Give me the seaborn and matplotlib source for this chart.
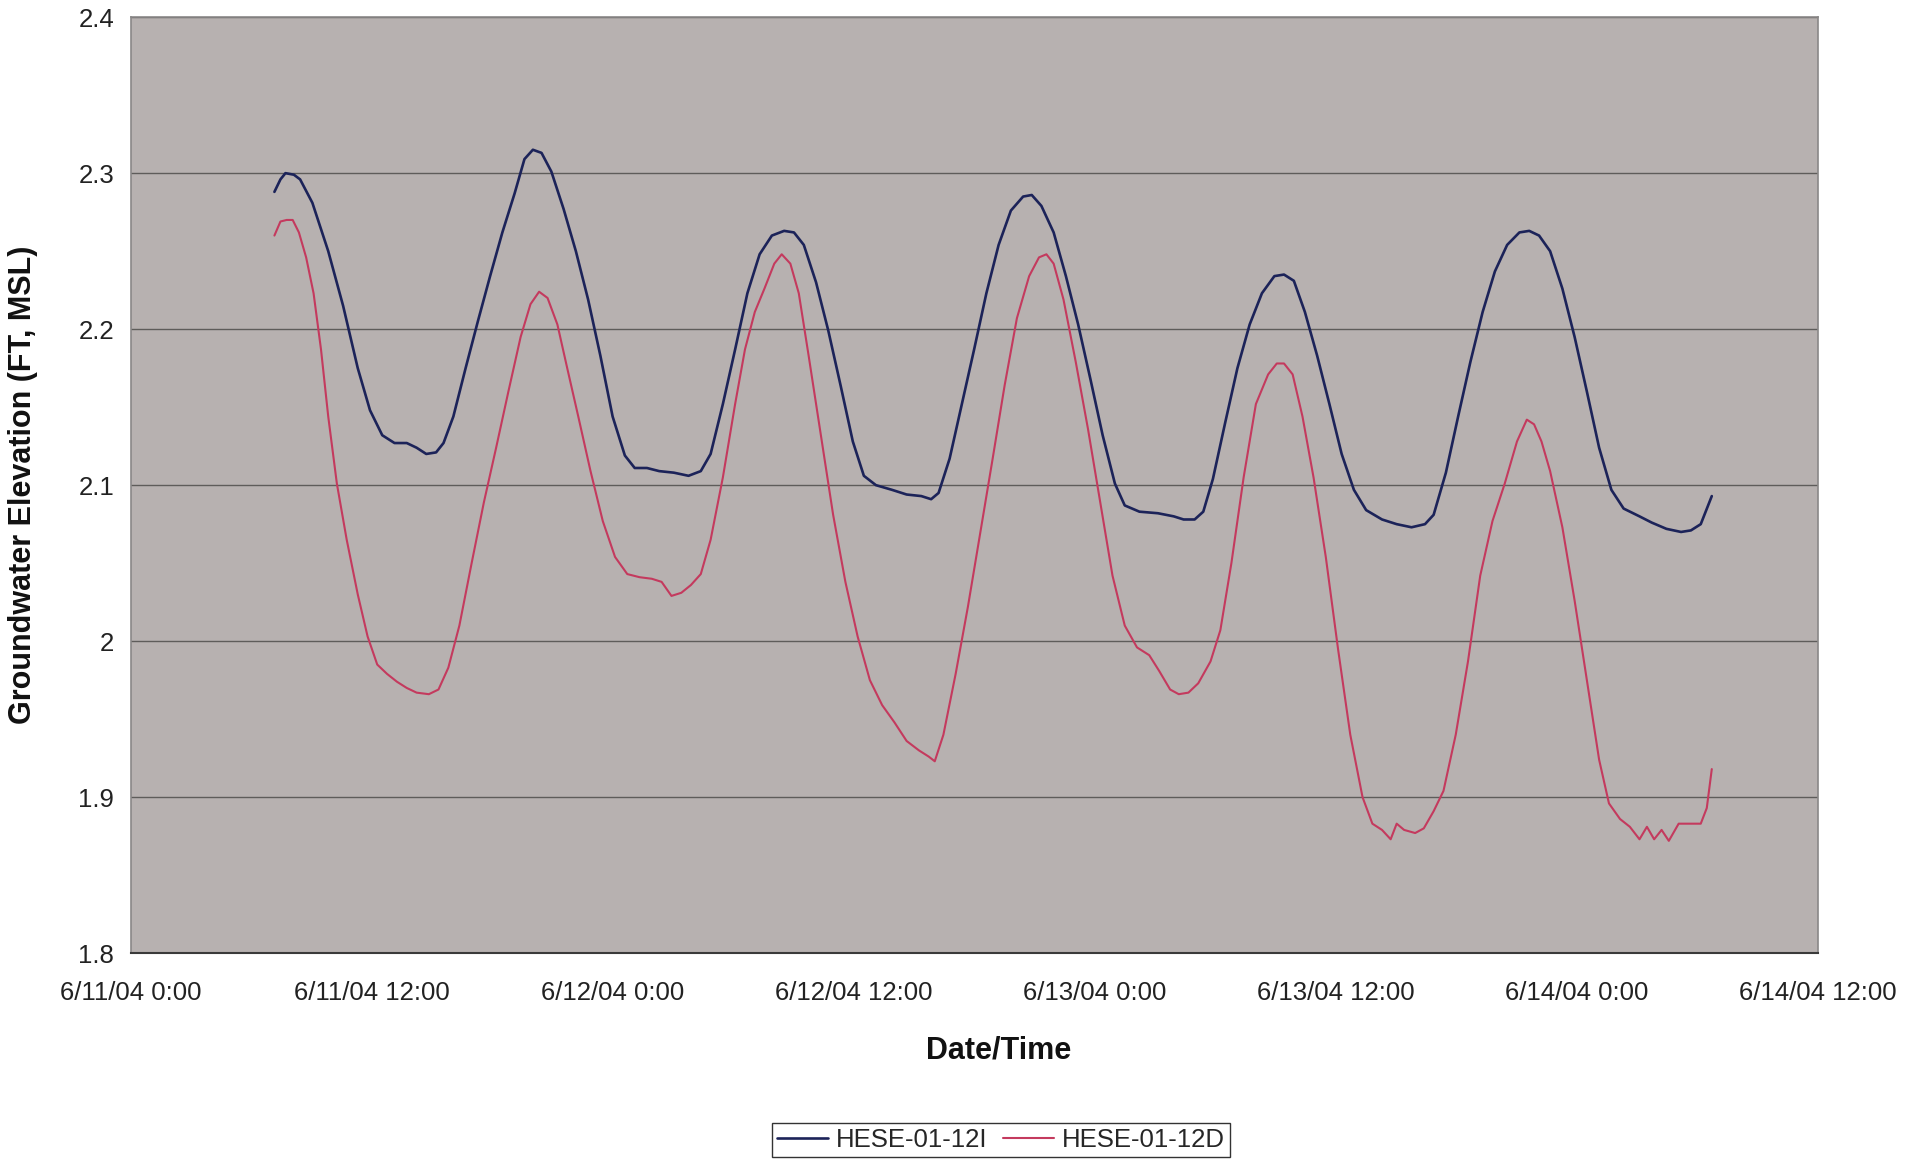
import matplotlib
matplotlib.use("Agg")
import matplotlib.pyplot as plt
import matplotlib.dates as mdates
from matplotlib.ticker import FuncFormatter, MultipleLocator
import numpy as np
import pandas as pd
import seaborn as sns

# Hours after 6/11/04 0:00 and groundwater elevation (ft MSL) for each well
hours_12i = [7.14, 7.44, 7.69, 8.11, 8.42, 9.03, 9.82, 10.56, 11.29, 11.90, 12.51, 13.12,
             13.73, 14.22, 14.70, 15.19, 15.56, 16.05, 16.66, 17.27, 17.88, 18.49, 19.10,
             19.59, 20.01, 20.44, 20.93, 21.54, 22.15, 22.76, 23.37, 23.98, 24.59, 25.08,
             25.69, 26.30, 27.03, 27.76, 28.37, 28.86, 29.47, 30.08, 30.69, 31.30, 31.91,
             32.52, 33.01, 33.50, 34.11, 34.72, 35.33, 35.94, 36.49, 37.09, 37.89, 38.62,
             39.35, 39.84, 40.21, 40.76, 41.37, 41.98, 42.59, 43.20, 43.81, 44.42, 44.85,
             45.33, 45.94, 46.55, 47.16, 47.77, 48.38, 48.99, 49.48, 50.21, 51.13, 51.92,
             52.41, 52.96, 53.39, 53.87, 54.48, 55.09, 55.70, 56.31, 56.93, 57.41, 57.90,
             58.45, 59.06, 59.67, 60.28, 60.89, 61.50, 62.29, 63.02, 63.76, 64.43, 64.86,
             65.47, 66.08, 66.69, 67.30, 67.91, 68.52, 69.13, 69.62, 70.11, 70.66, 71.27,
             71.88, 72.49, 73.10, 73.71, 74.32, 75.11, 75.72, 76.45, 77.18, 77.67, 78.16,
             78.71]
elev_12i = [2.288, 2.296, 2.300, 2.299, 2.296, 2.281, 2.250, 2.215, 2.175, 2.148, 2.132, 2.127,
            2.127, 2.124, 2.120, 2.121, 2.127, 2.144, 2.175, 2.205, 2.234, 2.262, 2.287,
            2.309, 2.315, 2.313, 2.301, 2.277, 2.250, 2.219, 2.183, 2.144, 2.119, 2.111,
            2.111, 2.109, 2.108, 2.106, 2.109, 2.120, 2.152, 2.187, 2.223, 2.248, 2.260,
            2.263, 2.262, 2.254, 2.230, 2.199, 2.164, 2.128, 2.106, 2.100, 2.097, 2.094,
            2.093, 2.091, 2.095, 2.117, 2.152, 2.187, 2.223, 2.254, 2.276, 2.285, 2.286,
            2.279, 2.262, 2.234, 2.203, 2.168, 2.132, 2.101, 2.087, 2.083, 2.082, 2.080,
            2.078, 2.078, 2.083, 2.104, 2.140, 2.175, 2.203, 2.223, 2.234, 2.235, 2.231,
            2.211, 2.183, 2.152, 2.120, 2.097, 2.084, 2.078, 2.075, 2.073, 2.075, 2.081,
            2.108, 2.144, 2.179, 2.211, 2.237, 2.254, 2.262, 2.263, 2.260, 2.250, 2.226,
            2.195, 2.160, 2.124, 2.097, 2.085, 2.080, 2.076, 2.072, 2.070, 2.071, 2.075,
            2.093]

hours_12d = [7.14, 7.44, 7.75, 8.05, 8.36, 8.72, 9.09, 9.46, 9.82, 10.25, 10.74, 11.29,
             11.78, 12.26, 12.75, 13.24, 13.73, 14.22, 14.83, 15.31, 15.80, 16.35, 16.96,
             17.57, 18.18, 18.79, 19.40, 19.89, 20.32, 20.74, 21.23, 21.72, 22.27, 22.88,
             23.49, 24.10, 24.71, 25.32, 25.93, 26.42, 26.91, 27.40, 27.88, 28.37, 28.86,
             29.47, 30.08, 30.57, 31.06, 31.54, 32.03, 32.40, 32.83, 33.25, 33.74, 34.35,
             34.96, 35.57, 36.18, 36.79, 37.40, 38.01, 38.62, 39.23, 39.72, 40.02, 40.45,
             41.06, 41.67, 42.28, 42.89, 43.50, 44.11, 44.72, 45.21, 45.58, 45.94, 46.43,
             47.04, 47.65, 48.26, 48.87, 49.48, 50.09, 50.70, 51.19, 51.74, 52.17, 52.65,
             53.14, 53.75, 54.24, 54.79, 55.40, 56.01, 56.62, 57.05, 57.41, 57.84, 58.33,
             58.88, 59.49, 60.10, 60.71, 61.32, 61.81, 62.29, 62.72, 63.02, 63.39, 63.94,
             64.37, 64.86, 65.35, 65.96, 66.57, 67.18, 67.79, 68.40, 69.01, 69.50, 69.86,
             70.23, 70.66, 71.27, 71.88, 72.49, 73.10, 73.59, 74.14, 74.63, 75.11, 75.48,
             75.84, 76.21, 76.57, 77.06, 77.67, 78.16, 78.46, 78.71]
elev_12d = [2.260, 2.269, 2.270, 2.270, 2.262, 2.246, 2.223, 2.187, 2.144, 2.101, 2.065, 2.030,
            2.003, 1.985, 1.979, 1.974, 1.970, 1.967, 1.966, 1.969, 1.983, 2.010, 2.050,
            2.089, 2.124, 2.160, 2.195, 2.216, 2.224, 2.220, 2.203, 2.175, 2.144, 2.109,
            2.077, 2.054, 2.043, 2.041, 2.040, 2.038, 2.029, 2.031, 2.036, 2.043, 2.065,
            2.105, 2.152, 2.187, 2.211, 2.226, 2.242, 2.248, 2.242, 2.223, 2.183, 2.132,
            2.081, 2.038, 2.003, 1.975, 1.959, 1.948, 1.936, 1.930, 1.926, 1.923, 1.940,
            1.979, 2.022, 2.069, 2.116, 2.164, 2.207, 2.234, 2.246, 2.248, 2.242, 2.219,
            2.179, 2.136, 2.089, 2.042, 2.010, 1.996, 1.991, 1.981, 1.969, 1.966, 1.967,
            1.973, 1.987, 2.007, 2.050, 2.105, 2.152, 2.171, 2.178, 2.178, 2.171, 2.144,
            2.105, 2.054, 1.995, 1.940, 1.900, 1.883, 1.879, 1.873, 1.883, 1.879, 1.877,
            1.880, 1.891, 1.904, 1.940, 1.987, 2.042, 2.077, 2.101, 2.128, 2.142, 2.139,
            2.128, 2.109, 2.073, 2.026, 1.975, 1.924, 1.896, 1.886, 1.881, 1.873, 1.881,
            1.873, 1.879, 1.872, 1.883, 1.883, 1.883, 1.893, 1.918]

series_names = ["HESE-01-12I", "HESE-01-12D"]
series_colors = ["#1c2359", "#c43a5e"]

start = pd.Timestamp("2004-06-11 00:00")
end = pd.Timestamp("2004-06-14 12:00")

frames = []
for name, hrs, vals in [(series_names[0], hours_12i, elev_12i),
                        (series_names[1], hours_12d, elev_12d)]:
    frames.append(pd.DataFrame({
        "time": start + pd.to_timedelta(np.array(hrs), unit="h"),
        "elevation": vals,
        "well": name,
    }))
df = pd.concat(frames, ignore_index=True)

sns.set_style("white")
plt.rcParams["font.family"] = ["Liberation Sans", "DejaVu Sans"]

fig = plt.figure(figsize=(19.21, 11.59), dpi=100)
ax = fig.add_axes([0.0682, 0.1776, 0.8782, 0.8076])
ax.set_facecolor("#b7b1b0")

sns.lineplot(data=df, x="time", y="elevation", hue="well", hue_order=series_names,
             palette=series_colors, ax=ax, legend=False, sort=False, estimator=None)
for line, lw in zip(ax.get_lines(), [1.9, 1.5]):
    line.set_linewidth(lw)

ax.set_xlim(start, end)
ax.set_ylim(1.8, 2.4)
ax.yaxis.set_major_locator(MultipleLocator(0.1))
ax.yaxis.set_major_formatter(FuncFormatter(lambda v, p: f"{round(v, 1):g}"))
ax.xaxis.set_major_locator(mdates.HourLocator(byhour=[0, 12]))


def fmt_date(v, p):
    d = mdates.num2date(v)
    return f"{d.month}/{d.day}/{d:%y} {d.hour}:{d:%M}"


ax.xaxis.set_major_formatter(FuncFormatter(fmt_date))

ax.grid(axis="y", color="#5e5c5a", linewidth=1.0)
ax.grid(axis="x", visible=False)
ax.set_axisbelow(True)

for side in ["top", "right", "left"]:
    ax.spines[side].set_color("#8a8888")
    ax.spines[side].set_linewidth(1.2)
ax.spines["bottom"].set_color("#3a3a3a")
ax.spines["bottom"].set_linewidth(1.5)

ax.tick_params(axis="x", direction="out", length=5, width=1, color="#808080",
               pad=15, labelsize=18.5, labelcolor="#222222")
ax.tick_params(axis="y", direction="out", length=5, width=1, color="#808080",
               pad=7, labelsize=18.5, labelcolor="#222222")

ax.set_xlabel("Date/Time", fontsize=22, fontweight="bold", color="#111111")
ax.set_ylabel("Groundwater Elevation (FT, MSL)", fontsize=22, fontweight="bold",
              color="#111111")
ax.xaxis.set_label_coords(0.514, -0.088)
ax.yaxis.set_label_coords(-0.055, 0.5)

handles = [plt.Line2D([], [], color=c, linewidth=lw)
           for c, lw in zip(series_colors, [1.9, 1.5])]
leg = fig.legend(handles, series_names, loc="center", bbox_to_anchor=(0.521, 0.0164),
                 ncol=2, fontsize=18.5, frameon=True, fancybox=False, framealpha=1,
                 edgecolor="#333333", borderpad=0.2, handlelength=2.0,
                 handletextpad=0.3, columnspacing=0.6)
leg.get_frame().set_linewidth(1.0)

fig.savefig("out.png", dpi=100, facecolor="white")
